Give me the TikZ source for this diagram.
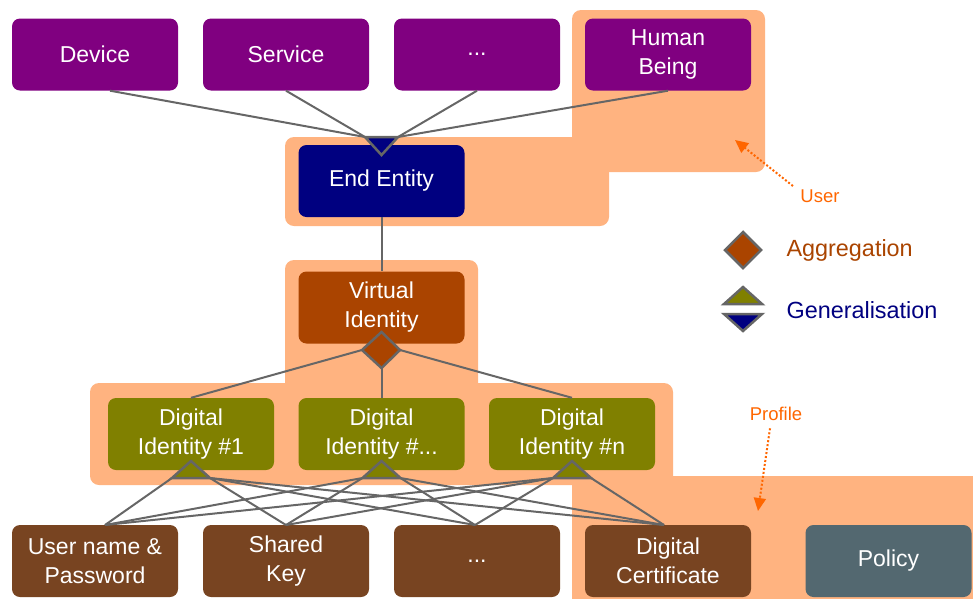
\documentclass[tikz,border=0pt]{standalone}
\usepackage{fontspec}
\setmainfont{Liberation Sans}
\usetikzlibrary{arrows.meta}
\definecolor{peach}{HTML}{FFB380}
\definecolor{linegray}{HTML}{666666}
\definecolor{devpurple}{HTML}{800080}
\definecolor{entnavy}{HTML}{000080}
\definecolor{virtorange}{HTML}{AA4400}
\definecolor{idolive}{HTML}{808000}
\definecolor{credbrown}{HTML}{784421}
\definecolor{policyslate}{HTML}{536870}
\definecolor{hintorange}{HTML}{FF6600}
\tikzset{
  box/.style={rounded corners=8pt, minimum width=166pt, minimum height=72pt,
    inner sep=0pt, text=white, align=center, font=\fontsize{23}{29}\selectfont},
  link/.style={draw=linegray, line width=2pt},
  region/.style={fill=peach, rounded corners=9pt},
  sym/.style={draw=linegray, line width=2.5pt, line join=miter},
  hint/.style={draw=hintorange, line width=2pt, dash pattern=on 2pt off 2pt,
    -{Triangle[length=13pt,width=12pt]}},
  hintlabel/.style={text=hintorange, font=\fontsize{18.5}{22}\selectfont},
  legendlabel/.style={anchor=west, font=\fontsize{23.4}{27}\selectfont},
}
\begin{document}
\begin{tikzpicture}[x=1pt,y=-1pt]
\useasboundingbox (0,0) rectangle (973,598);

% shaded groupings
\path[region] (572,10) rectangle (765,172);
\path[region] (285,137) rectangle (609,226);
\path[region] (285,260) rectangle (478,400);
\path[region] (90,383) rectangle (673,485);
\path[region] (572,476) rectangle (985,610);

% boxes
\node[box, fill=devpurple] (dev)   at (95,54.5)  {Device};
\node[box, fill=devpurple] (svc)   at (286,54.5) {Service};
\node[box, fill=devpurple] (dots1) at (477,54.5) {...};
\node[box, fill=devpurple] (human) at (668,54.5) {Human\\Being};
\node[box, fill=entnavy] (ee) at (381.5,181) {End Entity};
\node[box, fill=virtorange] (vi) at (381.5,307.5) {Virtual\\Identity};
\node[box, fill=idolive] (di1) at (191,434)   {Digital\\Identity \#1};
\node[box, fill=idolive] (di2) at (381.5,434) {Digital\\Identity \#...};
\node[box, fill=idolive] (di3) at (572,434)   {Digital\\Identity \#n};
\node[box, fill=credbrown] (upw)   at (95,561)  {User name \&\\Password};
\node[box, fill=credbrown] (skey)  at (286,561) {Shared\\Key};
\node[box, fill=credbrown] (dots2) at (477,561) {...};
\node[box, fill=credbrown] (cert)  at (668,561) {Digital\\Certificate};
\node[box, fill=policyslate] (policy) at (888.5,561) {Policy};

% symbol corner points
\coordinate (gtl) at (365,137);  \coordinate (gtr) at (398,137);  \coordinate (gta) at (381.5,155);
\coordinate (agt) at (381.5,332); \coordinate (agl) at (362,350);
\coordinate (agr) at (400,350);   \coordinate (agb) at (381.5,368);
\foreach \i/\x in {1/191,2/381.5,3/572}{
  \coordinate (g\i a) at (\x,461);
  \coordinate (g\i l) at (\x-19,478);
  \coordinate (g\i r) at (\x+19,478);
}
\coordinate (pu) at (105,525);
\coordinate (ps) at (286,525);
\coordinate (pd) at (475,525);
\coordinate (pc) at (664,525);

% connectors
\draw[link] (dev.south) ++(15,0) coordinate (devp) -- (gtl);
\draw[link] (svc.south) -- (gtl);
\draw[link] (dots1.south) -- (gtr);
\draw[link] (human.south) -- (gtr);
\draw[link] (ee.south) -- (vi.north);
\draw[link] (agl) -- (di1.north);
\draw[link] (agb) -- (di2.north);
\draw[link] (agr) -- (di3.north);
\draw[link] (g1l) -- (pu);
\draw[link] (g1r) -- (ps);  \draw[link] (g1r) -- (pd);  \draw[link] (g1r) -- (pc);
\draw[link] (g2l) -- (pu);  \draw[link] (g2l) -- (ps);
\draw[link] (g2r) -- (pd);  \draw[link] (g2r) -- (pc);
\draw[link] (g3l) -- (pu);  \draw[link] (g3l) -- (ps);  \draw[link] (g3l) -- (pd);
\draw[link] (g3r) -- (pc);

% relation symbols
\draw[sym, fill=entnavy] (gtl) -- (gtr) -- (gta) -- cycle;
\draw[sym, fill=virtorange] (agt) -- (agr) -- (agb) -- (agl) -- cycle;
\foreach \i in {1,2,3}{
  \draw[sym, fill=idolive] (g\i l) -- (g\i r) -- (g\i a) -- cycle;
}

% legend
\draw[sym, fill=virtorange] (743,232) -- (761,250) -- (743,268) -- (725,250) -- cycle;
\node[legendlabel, text=virtorange] (aggl) at (783,250) {Aggregation};
\draw[sym, fill=idolive] (743,287) -- (762,304) -- (724,304) -- cycle;
\draw[sym, fill=entnavy] (724,314) -- (762,314) -- (743,331) -- cycle;
\node[legendlabel, text=entnavy] (genl) at (783,310) {Generalisation};

% group captions
\node[hintlabel] (userl) at (820,196) {User};
\coordinate (usertip) at (735,140);
\draw[hint] (userl.north west) ++(-4,0) -- (usertip);
\node[hintlabel] (profl) at (776,414) {Profile};
\coordinate (proftip) at (758,511);
\draw[hint] (profl.south) ++(-6,4) -- (proftip);
\end{tikzpicture}
\end{document}
